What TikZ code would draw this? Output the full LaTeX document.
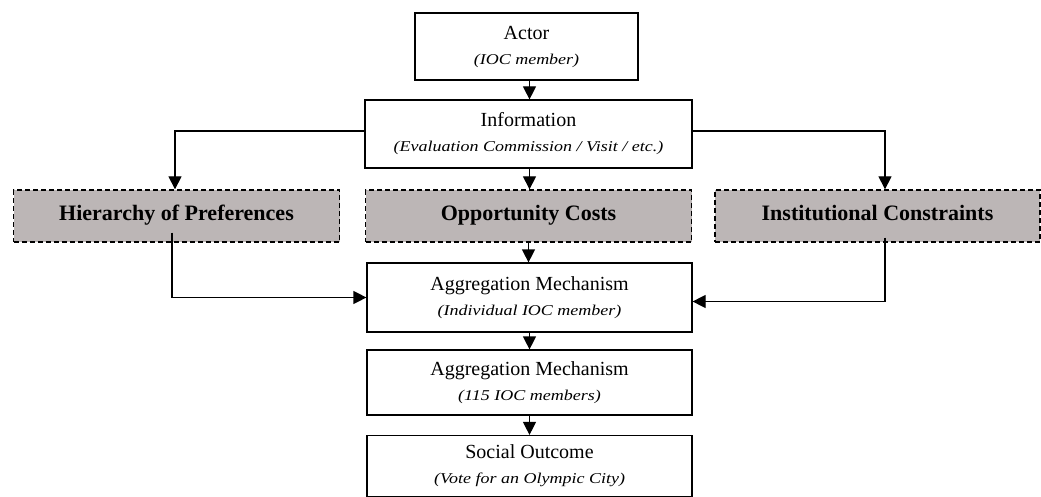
\documentclass[tikz,border=0pt]{standalone}
\usepackage{fontspec}
\setmainfont{Liberation Serif}
\usetikzlibrary{arrows.meta}
\definecolor{boxgray}{RGB}{188,182,182}
\begin{document}
\begin{tikzpicture}[x=1pt,y=-1pt,
  box/.style={draw, line width=1.2pt, rectangle, inner sep=0pt, align=center, minimum width=325pt, font=\fontsize{20}{25}\selectfont},
  dbox/.style={draw, dashed, dash pattern=on 5pt off 3pt, line width=1.3pt, fill=boxgray, rectangle, inner sep=0pt, minimum height=52pt, minimum width=326pt, text height=15pt, text depth=5pt, font=\fontsize{22}{24}\selectfont\bfseries},
  arr/.style={-{Triangle[length=13pt,width=13pt]}, line width=1.2pt}]
\useasboundingbox (0,0) rectangle (1041,497);
\newcommand{\mainline}[1]{{\fontsize{20}{25}\selectfont #1}}
\newcommand{\subline}[1]{\scalebox{1.2}[1]{\fontsize{15}{18}\selectfont\itshape #1}}
\node[box, minimum width=223pt, minimum height=67pt] (actor) at (526.5,46.5)
  {\mainline{Actor}\\\subline{(IOC member)}};
\node[box, minimum width=327pt, minimum height=68pt] (info) at (528.5,134)
  {\mainline{Information}\\\subline{(Evaluation Commission / Visit / etc.)}};
\node[dbox] (hier) at (176.5,216) {Hierarchy of Preferences};
\node[dbox] (opp) at (528.5,216) {Opportunity Costs};
\node[dbox, minimum width=325pt] (inst) at (877.5,216) {Institutional Constraints};
\node[box, minimum height=69pt] (agg1) at (529.5,297.5)
  {\mainline{Aggregation Mechanism}\\\subline{(Individual IOC member)}};
\node[box, minimum height=65pt] (agg2) at (529.5,382.5)
  {\mainline{Aggregation Mechanism}\\\subline{(115 IOC members)}};
\node[box, minimum height=61pt] (soc) at (529.5,466)
  {\mainline{Social Outcome}\\\subline{(Vote for an Olympic City)}};
\draw[arr] ([xshift=3pt]actor.south) -- ([xshift=3pt]actor.south |- info.north);
\draw[arr] ([xshift=1pt]info.south) -- ([xshift=1pt]info.south |- opp.north);
\draw[arr] (opp.south) -- (opp.south |- agg1.north);
\draw[arr] (agg1.south) -- (agg2.north);
\draw[arr] (agg2.south) -- (soc.north);
\draw[arr] ([yshift=3pt]info.west) -| ([xshift=-1.5pt]hier.north);
\draw[arr] ([yshift=3pt]info.east) -| ([xshift=7.5pt]inst.north);
\draw[arr] ([xshift=-4.5pt,yshift=10pt]hier.south) |- (agg1.west);
\draw[arr] ([xshift=7.5pt,yshift=5pt]inst.south) |- ([yshift=-4pt]agg1.east);
\end{tikzpicture}
\end{document}
